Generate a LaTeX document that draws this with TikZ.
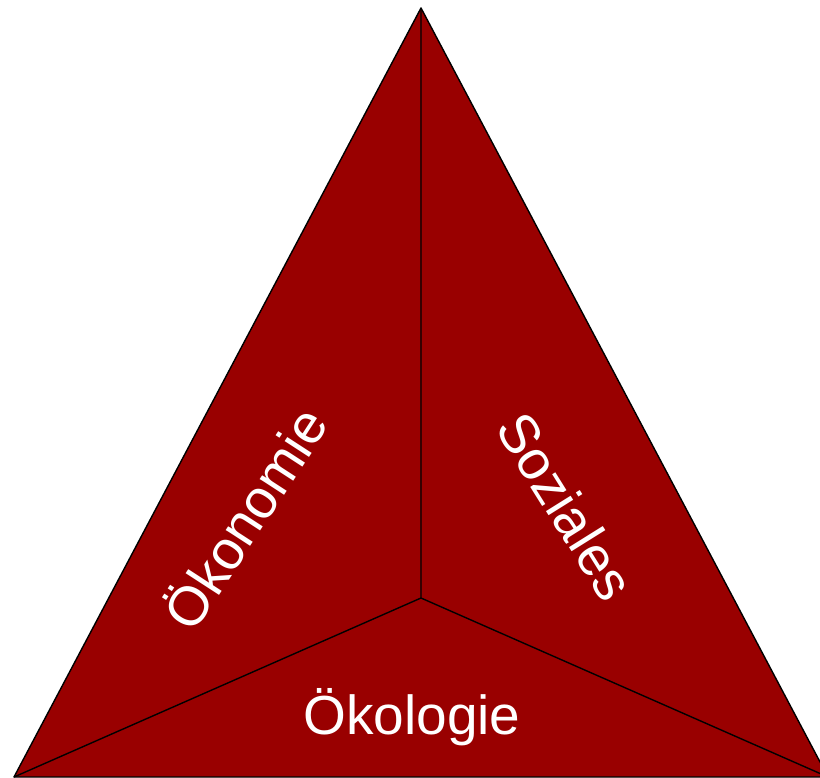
\documentclass[tikz,border=0pt]{standalone}
\usepackage{fontspec}
\setmainfont{Liberation Sans}
\definecolor{facered}{HTML}{990000}
\begin{document}
\begin{tikzpicture}[x=1pt,y=-1pt,
  lbl/.style={text=white,font=\fontsize{55}{55}\selectfont,inner sep=0pt}]
\useasboundingbox (0,0) rectangle (820,778);
\coordinate (T) at (421,8);
\coordinate (L) at (14,777);
\coordinate (R) at (828,777);
\coordinate (C) at (421,598);
\begin{scope}
\clip (0,0) rectangle (820,778);
\fill[facered] (T) -- (L) -- (R) -- cycle;
\draw[line width=1.4pt,line join=round] (T) -- (L) -- (R) -- cycle;
\draw[line width=1.4pt] (T) -- (C) (L) -- (C) -- (R);
\end{scope}
\node[lbl] (oekon) at (243,517) [rotate=57] {Ökonomie};
\node[lbl] (soz) at (566,506) [rotate=-58] {Soziales};
\node[lbl] (oekol) at (412,717) {Ökologie};
\end{tikzpicture}
\end{document}
